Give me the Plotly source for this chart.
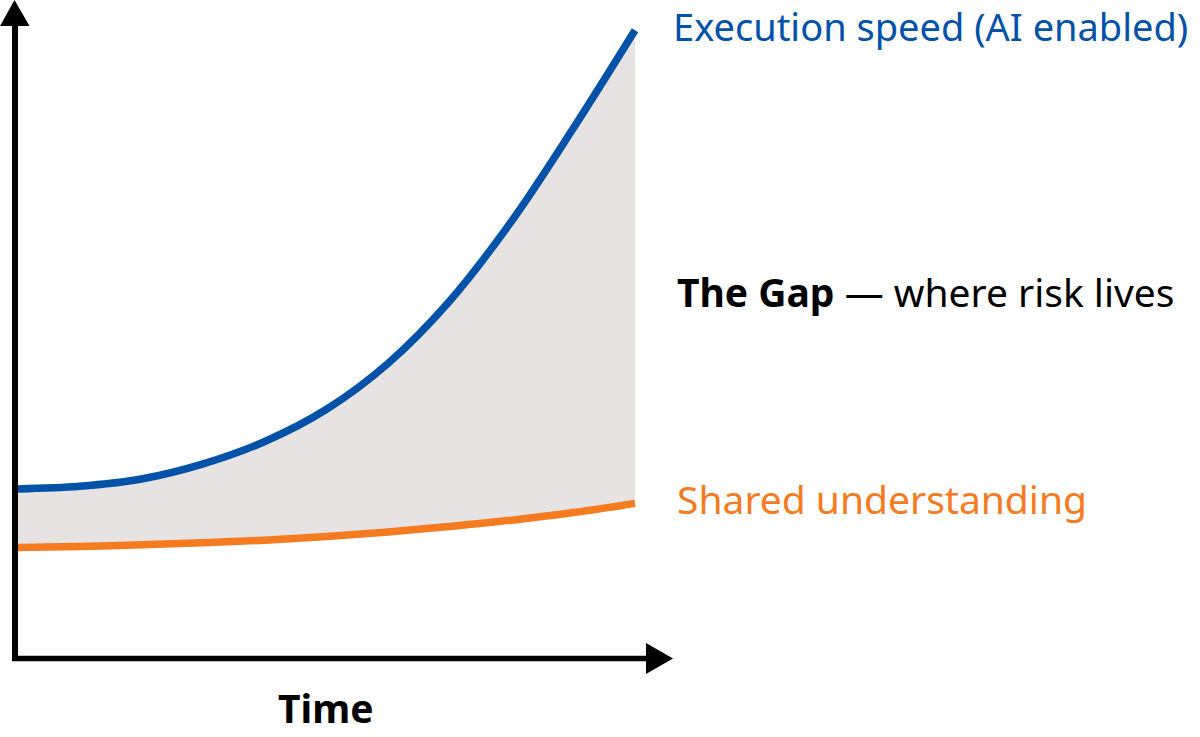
import plotly.graph_objects as go

# Data
time = [0, 10, 20, 30, 40, 50, 60, 70, 80, 90, 100]
execution_speed = [25.7, 26.1, 27.2, 29.5, 32.9, 37.8, 44.8, 54.3, 66.4, 80.5, 95.4]
shared_understanding = [16.8, 16.95, 17.2, 17.5, 17.9, 18.45, 19.15, 20.0, 20.95, 22.1, 23.5]

BLUE = "#0152A8"
ORANGE = "#F47B20"
GAP = "#E8E3E3"
FONT = "Noto Sans"

W, H = 1200, 737

fig = go.Figure()

# Gap fill (invisible boundary traces, filled between them)
fig.add_trace(go.Scatter(
    x=time, y=shared_understanding, mode="lines",
    line=dict(width=0, shape="spline", color=GAP), hoverinfo="skip", showlegend=False,
))
fig.add_trace(go.Scatter(
    x=time, y=execution_speed, mode="lines", fill="tonexty", fillcolor=GAP,
    line=dict(width=0, shape="spline", color=GAP), hoverinfo="skip", showlegend=False,
))
# Lines
fig.add_trace(go.Scatter(
    x=time, y=shared_understanding, mode="lines",
    line=dict(color=ORANGE, width=7.5, shape="spline"), showlegend=False,
))
fig.add_trace(go.Scatter(
    x=time, y=execution_speed, mode="lines",
    line=dict(color=BLUE, width=7.5, shape="spline"), showlegend=False,
))

def px(x):
    return x / W

def py(y):
    return 1 - y / H

shapes = [
    # y axis line
    dict(type="line", xref="paper", yref="paper", x0=px(15), x1=px(15), y0=py(661), y1=py(22),
         line=dict(color="black", width=6)),
    # x axis line
    dict(type="line", xref="paper", yref="paper", x0=px(12), x1=px(650), y0=py(658.5), y1=py(658.5),
         line=dict(color="black", width=5.5)),
    # arrowheads
    dict(type="path", xref="paper", yref="paper",
         path=f"M {px(14.5)} {py(0)} L {px(0)} {py(26)} L {px(29.5)} {py(26)} Z",
         fillcolor="black", line=dict(width=0)),
    dict(type="path", xref="paper", yref="paper",
         path=f"M {px(673)} {py(658.5)} L {px(646)} {py(643)} L {px(646)} {py(674)} Z",
         fillcolor="black", line=dict(width=0)),
]

FS = 39
annotations = [
    dict(text="Execution speed (AI enabled)", x=px(673), y=py(26), xref="paper", yref="paper",
         xanchor="left", yanchor="middle", showarrow=False, borderpad=0, borderwidth=0,
         font=dict(family=FONT, size=38, color=BLUE)),
    dict(text="<b>The Gap</b> — where risk lives", x=px(675), y=py(291), xref="paper", yref="paper",
         xanchor="left", yanchor="middle", showarrow=False,
         font=dict(family=FONT, size=FS, color="black")),
    dict(text="Shared understanding", x=px(675), y=py(498), xref="paper", yref="paper",
         xanchor="left", yanchor="middle", showarrow=False,
         font=dict(family=FONT, size=FS, color=ORANGE)),
    dict(text="<b>Time</b>", x=px(325.5), y=py(707), xref="paper", yref="paper",
         xanchor="center", yanchor="middle", showarrow=False,
         font=dict(family=FONT, size=FS, color="black")),
]

sx = 6.17  # px per time unit
sy = 6.58  # px per value unit
fig.update_layout(
    width=W, height=H,
    margin=dict(l=0, r=0, t=0, b=0),
    paper_bgcolor="white", plot_bgcolor="white",
    xaxis=dict(range=[-18 / sx, (W - 18) / sx], visible=False, fixedrange=True),
    yaxis=dict(range=[-(H - 658) / sy, 658 / sy], visible=False, fixedrange=True),
    shapes=shapes, annotations=annotations,
    showlegend=False,
)

fig.write_html("out.html", config={"displayModeBar": False},
               post_script="document.body.style.margin='0px';document.body.style.overflow='hidden';")
